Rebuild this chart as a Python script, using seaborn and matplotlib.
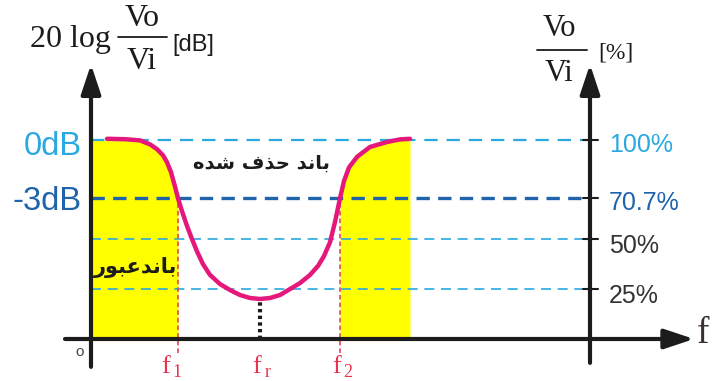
import numpy as np
import pandas as pd
import seaborn as sns
import matplotlib
matplotlib.use("Agg")
import matplotlib.pyplot as plt

# Band-stop filter response: output/input ratio (%) versus frequency
freq = [16, 34, 49, 59, 66, 72, 76, 80, 84, 87, 91, 96, 101, 106, 112, 119, 129,
        139, 149, 159, 169, 179, 189, 199, 209, 219, 227, 233, 239, 244, 249, 253,
        258, 266, 279, 296, 309, 319]
gain_pct = [100.6, 100.4, 99.8, 97.8, 95.4, 92.3, 88.8, 83.8, 76.6, 70.7, 64.2,
            56.8, 50.2, 44.0, 37.6, 32.2, 27.6, 24.6, 22.1, 20.6, 20.1, 20.6, 22.1,
            25.1, 28.1, 32.2, 36.7, 41.7, 48.6, 58.8, 70.7, 79.4, 86.2, 91.5, 96.5,
            99.0, 100.3, 100.6]

f1, fr, f2 = 87, 169, 249
level_pct = [100, 70.7, 50, 25]
level_right_labels = ["100%", "70.7%", "50%", "25%"]
level_left_labels = ["0dB", "-3dB"]

LIGHT_BLUE = "#29a9e0"
DARK_BLUE = "#1f63aa"
MAGENTA = "#e5177a"
RED = "#e8334f"
YELLOW = "#ffff00"
INK = "#1c1c1c"

# Arabic-script labels in presentation forms, visual order
stop_band = "\uFEE9\uFEAA\uFEB7 \uFED1\uFEAC\uFEA3 \uFEAA\uFEE7\uFE8E\uFE91"
pass_band = "\uFEAD\uFEEE\uFE92\uFECB\uFEAA\uFEE7\uFE8E\uFE91"

sns.set_theme(style="white")
plt.rcParams["font.family"] = ["Liberation Sans", "DejaVu Sans"]

fig = plt.figure(figsize=(7.25, 3.81), dpi=100)
ax = fig.add_axes([0, 0, 1, 1])
ax.set_xlim(-91, 634)
ax.set_ylim(-21.11, 170.35)
ax.axis("off")

df = pd.DataFrame({"f": freq, "g": gain_pct})
fa = np.array(freq, dtype=float)
ga = np.array(gain_pct, dtype=float)

# yellow pass bands under the curve
left = fa <= f1
xl = np.concatenate([[0], fa[left]])
yl = np.concatenate([[100], np.minimum(ga[left], 100)])
ax.fill_between(xl, 0, yl, color=YELLOW, lw=0, zorder=1)
right = fa >= f2
ax.fill_between(fa[right], 0, np.minimum(ga[right], 100), color=YELLOW, lw=0, zorder=1)

# horizontal reference levels
ax.plot([0, 499], [100, 100], color=LIGHT_BLUE, lw=1.6, dashes=(6, 4), zorder=2)
ax.plot([0, 499], [70.7, 70.7], color=DARK_BLUE, lw=2.4, dashes=(4, 2.5), zorder=2)
ax.plot([0, 499], [50, 50], color=LIGHT_BLUE, lw=1.2, dashes=(6, 4), zorder=2)
ax.plot([0, 499], [25, 25], color=LIGHT_BLUE, lw=1.2, dashes=(6, 4), zorder=2)

# cutoff markers
for fc in (f1, f2):
    ax.plot([fc, fc], [-7, 70.7], color=RED, lw=1.1, dashes=(3, 2), zorder=2)
ax.plot([fr, fr], [0, min(gain_pct)], color=INK, lw=3, dashes=(0.8, 0.8), zorder=3)

# response curve
sns.lineplot(data=df, x="f", y="g", sort=False, color=MAGENTA, lw=3.2, ax=ax,
             zorder=4, solid_capstyle="round", solid_joinstyle="round")

# axes with arrow heads
arrow = dict(arrowstyle="-|>,head_length=0.9,head_width=0.3", lw=3, color=INK,
             mutation_scale=20, shrinkA=0, shrinkB=0)
ax.annotate("", xy=(0, 138), xytext=(0, -14), arrowprops=arrow, zorder=5)
ax.annotate("", xy=(499, 138), xytext=(499, -12), arrowprops=arrow, zorder=5)
ax.annotate("", xy=(603, 0), xytext=(-26, 0), arrowprops=arrow, zorder=5)

for lv in level_pct:
    ax.plot([492, 507], [lv, lv], color=INK, lw=1.5, zorder=5)

# level labels
ax.text(-9, 92.5, level_left_labels[0], color=LIGHT_BLUE, fontsize=23.5, ha="right", va="baseline")
ax.text(-9, 64.8, level_left_labels[1], color=DARK_BLUE, fontsize=23.5, ha="right", va="baseline")
right_colors = [LIGHT_BLUE, DARK_BLUE, "#333333", "#333333"]
right_base = [94, 64.8, 43.2, 18.1]
for lab, col, yb in zip(level_right_labels, right_colors, right_base):
    ax.text(518, yb, lab, color=col, fontsize=18, ha="left", va="baseline")

# axis titles
serif = ["Liberation Serif", "DejaVu Serif"]
ax.text(-61, 146.7, "20 log", fontsize=23, family=serif, color=INK, ha="left", va="baseline")
ax.text(51, 157.5, "Vo", fontsize=23, family=serif, color=INK, ha="center", va="baseline")
ax.plot([27, 76], [151.8, 151.8], color=INK, lw=1.3)
ax.text(51, 135.5, "Vi", fontsize=23, family=serif, color=INK, ha="center", va="baseline")
ax.text(81, 144.7, "[dB]", fontsize=17, color=INK, ha="left", va="baseline")

ax.text(468, 152.3, "Vo", fontsize=22, family=serif, color=INK, ha="center", va="baseline")
ax.plot([446, 496], [145.2, 145.2], color=INK, lw=1.3)
ax.text(468, 129.5, "Vi", fontsize=22, family=serif, color=INK, ha="center", va="baseline")
ax.text(507, 141.2, "[%]", fontsize=17, family=serif, color=INK, ha="left", va="baseline")

ax.text(612, -2, "f", fontsize=27, family=serif, color="#3a3030", ha="center", va="baseline")

# frequency labels
for xc, sub in ((f1 - 12, "1"), (fr - 3, "r"), (f2 - 3, "2")):
    ax.text(xc, -17, "f", fontsize=19, family=serif, color=RED, ha="center", va="baseline")
    ax.text(xc + 11, -19.3, sub, fontsize=13, family=serif, color=RED, ha="center", va="baseline")

ax.text(-11, -6.5, "o", fontsize=11, color="#444444", ha="center", va="center")

# band names
ax.text(170, 88.4, stop_band, fontsize=14, fontweight="bold", family=["DejaVu Sans"],
        color=INK, ha="center", va="center", zorder=6)
ax.text(45, 35.7, pass_band, fontsize=15, fontweight="bold", family=["DejaVu Sans"],
        color=INK, ha="center", va="center", zorder=6)

fig.savefig("out.png", dpi=100)
